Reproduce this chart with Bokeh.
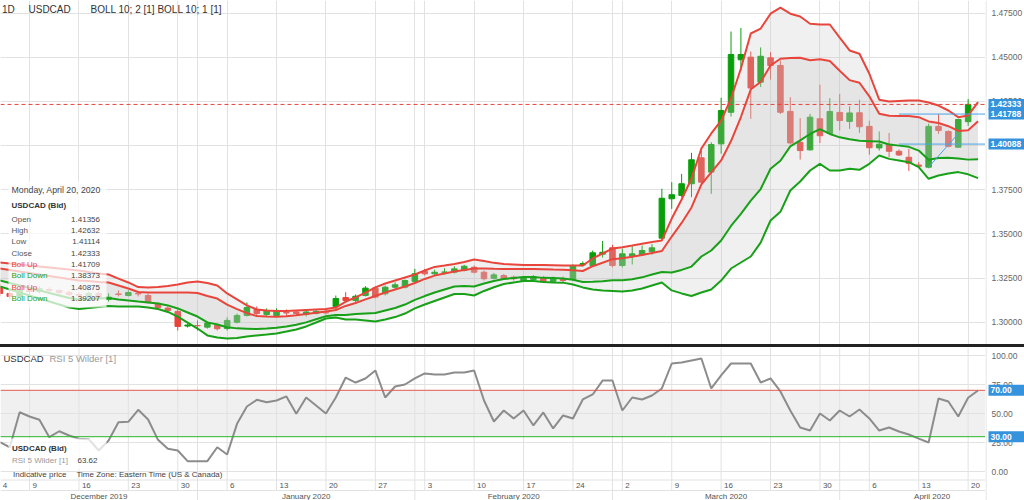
from bokeh.plotting import figure
from bokeh.models import (Range1d, FixedTicker, Label, BoxAnnotation, Span, Div,
                          ColumnDataSource, Grid)
from bokeh.layouts import column, row
from bokeh.embed import file_html
from bokeh.resources import INLINE
from bokeh.core.properties import value

FONT = "Liberation Sans"

# ------------------------------------------------------------------ data
symbol = "USDCAD"
last_date = "Monday, April 20, 2020"

opens = [1.3197, 1.3163, 1.3146, 1.3185, 1.3174, 1.3185, 1.3180, 1.3168, 1.3157, 1.3151,
         1.3163, 1.3129, 1.3160, 1.3151, 1.3163, 1.3151, 1.3106, 1.3080, 1.3061, 1.2978,
         1.2981, 1.2972, 1.2981, 1.2964, 1.3000, 1.3038, 1.3072, 1.3044, 1.3038, 1.3055,
         1.3058, 1.3044, 1.3049, 1.3061, 1.3089, 1.3140, 1.3123, 1.3151, 1.3193, 1.3161,
         1.3198, 1.3198, 1.3231, 1.3287, 1.3274, 1.3283, 1.3283, 1.3293, 1.3311, 1.3283,
         1.3249, 1.3264, 1.3255, 1.3236, 1.3242, 1.3253, 1.3231, 1.3247, 1.3242, 1.3324,
         1.3321, 1.3385, 1.3421, 1.3321, 1.3374, 1.3382, 1.3400, 1.3476, 1.3699, 1.3718,
         1.3784, 1.3931, 1.3850, 1.4010, 1.4189, 1.4486, 1.4501, 1.4359, 1.4497, 1.4454,
         1.4194, 1.4019, 1.3976, 1.4152, 1.4069, 1.4188, 1.4137, 1.4186, 1.4109, 1.3987,
         1.4008, 1.3968, 1.3934, 1.3890, 1.3878, 1.4109, 1.4080, 1.3991, 1.41356]
highs = [1.3219, 1.3180, 1.3202, 1.3197, 1.3202, 1.3197, 1.3185, 1.3180, 1.3168, 1.3174,
         1.3174, 1.3163, 1.3180, 1.3180, 1.3174, 1.3163, 1.3112, 1.3089, 1.3072, 1.2993,
         1.3010, 1.3004, 1.2993, 1.3027, 1.3049, 1.3112, 1.3089, 1.3078, 1.3078, 1.3072,
         1.3066, 1.3066, 1.3072, 1.3072, 1.3151, 1.3170, 1.3157, 1.3204, 1.3202, 1.3208,
         1.3227, 1.3242, 1.3302, 1.3302, 1.3298, 1.3306, 1.3317, 1.3325, 1.3321, 1.3293,
         1.3279, 1.3273, 1.3264, 1.3262, 1.3267, 1.3262, 1.3259, 1.3259, 1.3327, 1.3344,
         1.3406, 1.3460, 1.3438, 1.3417, 1.3434, 1.3434, 1.3442, 1.3756, 1.3793, 1.3840,
         1.3959, 1.3991, 1.4019, 1.4271, 1.4646, 1.4666, 1.4533, 1.4556, 1.4529, 1.4482,
         1.4274, 1.4156, 1.4180, 1.4345, 1.4269, 1.4292, 1.4223, 1.4260, 1.4141, 1.4080,
         1.4072, 1.3978, 1.3982, 1.3907, 1.4124, 1.4179, 1.4086, 1.4152, 1.42632]
lows = [1.3146, 1.3129, 1.3140, 1.3157, 1.3163, 1.3168, 1.3157, 1.3146, 1.3140, 1.3146,
        1.3123, 1.3117, 1.3146, 1.3146, 1.3146, 1.3106, 1.3072, 1.3058, 1.2953, 1.2970,
        1.2953, 1.2964, 1.2953, 1.2953, 1.2993, 1.3032, 1.3032, 1.3032, 1.3032, 1.3032,
        1.3038, 1.3032, 1.3044, 1.3044, 1.3066, 1.3112, 1.3112, 1.3146, 1.3134, 1.3151,
        1.3189, 1.3191, 1.3225, 1.3264, 1.3264, 1.3270, 1.3276, 1.3287, 1.3276, 1.3236,
        1.3242, 1.3239, 1.3236, 1.3228, 1.3233, 1.3222, 1.3222, 1.3225, 1.3236, 1.3315,
        1.3315, 1.3366, 1.3310, 1.3310, 1.3327, 1.3378, 1.3382, 1.3472, 1.3642, 1.3708,
        1.3708, 1.3784, 1.3727, 1.3954, 1.4165, 1.4423, 1.4152, 1.4332, 1.4374, 1.4179,
        1.4006, 1.3921, 1.3972, 1.4015, 1.4063, 1.4086, 1.4095, 1.4072, 1.3949, 1.3972,
        1.3934, 1.3941, 1.3857, 1.3876, 1.3872, 1.4067, 1.3991, 1.3987, 1.41114]
closes = [1.3163, 1.3146, 1.3185, 1.3174, 1.3191, 1.3180, 1.3168, 1.3157, 1.3151, 1.3163,
          1.3134, 1.3142, 1.3157, 1.3168, 1.3160, 1.3112, 1.3083, 1.3066, 1.2976, 1.2984,
          1.2980, 1.2995, 1.2963, 1.3010, 1.3038, 1.3083, 1.3049, 1.3066, 1.3066, 1.3052,
          1.3049, 1.3058, 1.3061, 1.3052, 1.3134, 1.3123, 1.3147, 1.3193, 1.3142, 1.3198,
          1.3212, 1.3236, 1.3274, 1.3274, 1.3283, 1.3284, 1.3302, 1.3317, 1.3283, 1.3246,
          1.3268, 1.3246, 1.3246, 1.3253, 1.3259, 1.3231, 1.3247, 1.3236, 1.3318, 1.3332,
          1.3393, 1.3396, 1.3321, 1.3387, 1.3387, 1.3406, 1.3421, 1.3702, 1.3722, 1.3784,
          1.3920, 1.3793, 1.4006, 1.4199, 1.4516, 1.4516, 1.4326, 1.4506, 1.4454, 1.4189,
          1.4015, 1.3972, 1.4161, 1.4056, 1.4193, 1.4142, 1.4185, 1.4107, 1.3988, 1.4008,
          1.3968, 1.3947, 1.3900, 1.3883, 1.4109, 1.4086, 1.3996, 1.4148, 1.42333]

# Bollinger bands as drawn (shifted one bar, so one point more than the candles)
boll2_up = [1.3338, 1.3332, 1.3327, 1.3321, 1.3315, 1.3310, 1.3304, 1.3298, 1.3293, 1.3284,
            1.3276, 1.3270, 1.3247, 1.3225, 1.3199, 1.3197, 1.3199, 1.3205, 1.3213, 1.3225,
            1.3231, 1.3222, 1.3208, 1.3163, 1.3129, 1.3095, 1.3072, 1.3066, 1.3063, 1.3063,
            1.3066, 1.3069, 1.3072, 1.3075, 1.3083, 1.3117, 1.3140, 1.3168, 1.3197, 1.3219,
            1.3236, 1.3253, 1.3270, 1.3293, 1.3313, 1.3321, 1.3330, 1.3341, 1.3355, 1.3347,
            1.3336, 1.3330, 1.3327, 1.3324, 1.3324, 1.3324, 1.3323, 1.3321, 1.3321, 1.3321,
            1.3361, 1.3389, 1.3417, 1.3425, 1.3434, 1.3444, 1.3454, 1.3463, 1.3587, 1.3695,
            1.3814, 1.3984, 1.4069, 1.4142, 1.4267, 1.4437, 1.4635, 1.4663, 1.4747, 1.4781,
            1.4747, 1.4731, 1.4690, 1.4686, 1.4686, 1.4612, 1.4539, 1.4520, 1.4407, 1.4260,
            1.4250, 1.4253, 1.4256, 1.4256, 1.4244, 1.4227, 1.4199, 1.4161, 1.41709, 1.4246]
boll1_up = [1.3304, 1.3296, 1.3287, 1.3279, 1.3270, 1.3262, 1.3253, 1.3245, 1.3236, 1.3233,
            1.3228, 1.3225, 1.3208, 1.3191, 1.3171, 1.3168, 1.3168, 1.3168, 1.3168, 1.3168,
            1.3165, 1.3148, 1.3134, 1.3099, 1.3074, 1.3051, 1.3035, 1.3032, 1.3031, 1.3034,
            1.3039, 1.3046, 1.3053, 1.3061, 1.3069, 1.3092, 1.3109, 1.3129, 1.3148, 1.3168,
            1.3185, 1.3202, 1.3222, 1.3245, 1.3264, 1.3276, 1.3287, 1.3296, 1.3304, 1.3304,
            1.3302, 1.3301, 1.3301, 1.3301, 1.3301, 1.3300, 1.3298, 1.3297, 1.3294, 1.3290,
            1.3317, 1.3337, 1.3357, 1.3362, 1.3371, 1.3381, 1.3392, 1.3403, 1.3485, 1.3562,
            1.3650, 1.3780, 1.3848, 1.3916, 1.4026, 1.4162, 1.4319, 1.4360, 1.4454, 1.4492,
            1.4496, 1.4498, 1.4483, 1.4489, 1.4479, 1.4424, 1.4371, 1.4356, 1.4279, 1.4181,
            1.4169, 1.4168, 1.4168, 1.4161, 1.4137, 1.4128, 1.4110, 1.4083, 1.40875, 1.4138]
boll1_dn = [1.3236, 1.3222, 1.3208, 1.3194, 1.3180, 1.3165, 1.3151, 1.3137, 1.3129, 1.3131,
            1.3134, 1.3137, 1.3129, 1.3123, 1.3117, 1.3112, 1.3106, 1.3095, 1.3078, 1.3055,
            1.3032, 1.2999, 1.2987, 1.2971, 1.2965, 1.2963, 1.2961, 1.2964, 1.2968, 1.2976,
            1.2986, 1.2999, 1.3017, 1.3034, 1.3041, 1.3041, 1.3046, 1.3049, 1.3052, 1.3066,
            1.3080, 1.3100, 1.3126, 1.3148, 1.3168, 1.3185, 1.3202, 1.3205, 1.3202, 1.3219,
            1.3233, 1.3245, 1.3250, 1.3256, 1.3256, 1.3251, 1.3250, 1.3248, 1.3240, 1.3228,
            1.3229, 1.3232, 1.3237, 1.3237, 1.3243, 1.3254, 1.3270, 1.3284, 1.3281, 1.3296,
            1.3315, 1.3372, 1.3406, 1.3463, 1.3545, 1.3613, 1.3688, 1.3754, 1.3869, 1.3914,
            1.3996, 1.4030, 1.4066, 1.4094, 1.4066, 1.4047, 1.4036, 1.4027, 1.4025, 1.4023,
            1.4006, 1.4000, 1.3993, 1.3972, 1.3920, 1.3930, 1.3931, 1.3927, 1.39207, 1.3923]
boll2_dn = [1.3202, 1.3185, 1.3168, 1.3151, 1.3134, 1.3117, 1.3100, 1.3083, 1.3075, 1.3080,
            1.3086, 1.3092, 1.3089, 1.3089, 1.3089, 1.3083, 1.3075, 1.3058, 1.3032, 1.2998,
            1.2964, 1.2925, 1.2913, 1.2908, 1.2911, 1.2919, 1.2925, 1.2930, 1.2936, 1.2947,
            1.2959, 1.2976, 1.2998, 1.3021, 1.3027, 1.3015, 1.3015, 1.3010, 1.3004, 1.3015,
            1.3029, 1.3049, 1.3078, 1.3100, 1.3120, 1.3140, 1.3160, 1.3160, 1.3151, 1.3177,
            1.3198, 1.3216, 1.3225, 1.3233, 1.3233, 1.3228, 1.3225, 1.3224, 1.3213, 1.3197,
            1.3185, 1.3180, 1.3177, 1.3174, 1.3180, 1.3191, 1.3208, 1.3225, 1.3180, 1.3163,
            1.3148, 1.3168, 1.3185, 1.3236, 1.3304, 1.3338, 1.3372, 1.3451, 1.3576, 1.3625,
            1.3746, 1.3797, 1.3859, 1.3897, 1.3859, 1.3859, 1.3869, 1.3863, 1.3897, 1.3944,
            1.3925, 1.3916, 1.3906, 1.3878, 1.3812, 1.3831, 1.3842, 1.3850, 1.38373, 1.3816]

# RSI 5 Wilder (shifted one bar)
rsi = [25.3, 20.9, 51.1, 47.4, 44.6, 29.6, 34.7, 31.0, 28.2, 27.8,
       18.1, 26.7, 42.5, 42.8, 53.2, 44.8, 27.3, 19.6, 18.1, 8.9,
       8.9, 8.9, 20.9, 14.7, 41.1, 56.0, 61.8, 59.7, 61.2, 64.7,
       49.7, 63.8, 56.9, 50.0, 63.8, 81.0, 76.7, 80.2, 87.1, 63.8,
       73.3, 75.0, 80.2, 84.5, 83.6, 83.6, 85.3, 85.3, 87.1, 61.2,
       43.1, 52.6, 45.7, 52.6, 39.7, 50.9, 37.1, 48.3, 45.7, 62.1,
       66.4, 78.4, 78.4, 52.6, 63.8, 62.1, 65.5, 71.6, 93.1, 94.0,
       95.7, 97.4, 71.6, 82.8, 93.1, 93.1, 93.1, 76.7, 80.2, 69.0,
       52.6, 37.9, 35.3, 50.0, 44.0, 52.6, 47.4, 53.4, 45.7, 35.3,
       37.9, 34.5, 31.9, 28.4, 25.0, 62.9, 60.3, 47.4, 63.62, 69.8]

price_ticks = [1.300, 1.325, 1.350, 1.375, 1.400, 1.425, 1.450, 1.475]
rsi_ticks = [0, 25, 50, 75, 100]
rsi_levels = [70, 30]

# trading-day index of each labelled day (Dec 4, then the Mondays)
week_starts = [0, 3, 8, 13, 18, 23, 28, 33, 38, 43, 48, 53, 58, 63, 68, 73, 78, 83, 88, 93, 98]
week_labels = ["4", "9", "16", "23", "30", "6", "13", "20", "27", "3", "10", "17", "24",
               "2", "9", "16", "23", "30", "6", "13", "20"]
month_starts = [20, 42, 62, 85]
month_names = ["December 2019", "January 2020", "February 2020", "March 2020", "April 2020"]

# user-drawn tools on the chart
drawn_levels = [1.41788, 1.40088]
drawn_from = 91
trend_x = [94, 97]
trend_y = [1.3878, 1.4068]

# ------------------------------------------------------------------ style / geometry
GREEN = "#0a9f0a"
RED = "#e8433a"
BAND_RED = "#e8463c"
BAND_GREEN = "#18a018"
GRID = "#e2e2e2"
BLUE = "#3592dc"
FW = 985          # frame width
AXW = 39          # right label column
PH = 344          # price frame height
RH = 153          # RSI frame height (incl. date rows)


def xi(px):      # reference pixel column -> bar index
    return (px + 0.6) / 9.88


def py(px):      # reference pixel row -> price
    return 1.48219 - 0.00056635 * px


def ry(px):      # reference pixel row -> RSI value
    return (471.0 - px) / 1.16


def add_text(fig, x, y, text, size="8px", color="#444444", style="normal", align="left"):
    fig.add_layout(Label(x=x, y=y, text=text, text_font=FONT, text_font_size=size,
                         text_color=color, text_font_style=style, text_align=align,
                         text_baseline="middle"))


def base_fig(fw, fh, xr, yr):
    f = figure(frame_width=fw, frame_height=fh, x_range=xr, y_range=yr,
               x_axis_location=None, y_axis_location=None,
               output_backend="svg", toolbar_location=None,
               min_border_left=0, min_border_right=0, min_border_top=0, min_border_bottom=0)
    f.outline_line_color = None
    for g in f.grid:
        g.visible = False
    return f


def label_column(yr, fh, ticks, fmt, tags, tag_fmt):
    a = base_fig(AXW, fh, Range1d(0, AXW), yr)
    a.add_layout(Span(location=0.5, dimension="height", line_color="#dddddd", line_width=1))
    a.text(x=[6] * len(ticks), y=ticks, text=[fmt % t for t in ticks],
           text_font=value(FONT), text_font_size="8.5px", text_color="#666666",
           text_baseline="middle")
    a.rect(x=[3 + (AXW - 3) / 2.0] * len(tags), y=tags, width=AXW - 3, height=11,
           height_units="screen", fill_color=BLUE, line_color=None)
    a.text(x=[5] * len(tags), y=tags, text=[tag_fmt % t for t in tags],
           text_font=value(FONT), text_font_size="8.5px", text_font_style="bold",
           text_color="white", text_baseline="middle")
    return a


xr = Range1d(xi(0), xi(985))
vgrid = sorted(week_starts[1:] + month_starts)

# ------------------------------------------------------------------ price panel
p = base_fig(FW, PH, xr, Range1d(py(344), py(0)))
p.add_layout(Grid(dimension=0, ticker=FixedTicker(ticks=vgrid), grid_line_color=GRID))
p.add_layout(Grid(dimension=1, ticker=FixedTicker(ticks=price_ticks), grid_line_color=GRID))

n = len(closes)
src = ColumnDataSource(dict(
    x=list(range(n)), h=highs, l=lows,
    top=[max(o, c) for o, c in zip(opens, closes)],
    bot=[min(o, c) for o, c in zip(opens, closes)],
    col=[GREEN if c >= o else RED for o, c in zip(opens, closes)]))
p.segment(x0="x", y0="h", x1="x", y1="l", line_color="col", line_width=1, source=src)
p.vbar(x="x", width=0.56, top="top", bottom="bot", fill_color="col", line_color="col", source=src)

bx = list(range(len(boll2_up)))
p.varea(x=bx, y1=boll2_dn, y2=boll2_up, fill_color="#c4c4c4", fill_alpha=0.26)
p.varea(x=bx, y1=boll1_dn, y2=boll1_up, fill_color="#c4c4c4", fill_alpha=0.26)
p.line(bx, boll2_up, line_color=BAND_RED, line_width=2)
p.line(bx, boll1_up, line_color=BAND_RED, line_width=2)
p.line(bx, boll1_dn, line_color=BAND_GREEN, line_width=2)
p.line(bx, boll2_dn, line_color=BAND_GREEN, line_width=2)

for lv in drawn_levels:
    p.line([drawn_from, xr.end], [lv, lv], line_color="#4aa3e8", line_width=1)
p.line(trend_x, trend_y, line_color="#4aa3e8", line_width=1)

p.add_layout(Span(location=closes[-1], dimension="width", line_color=RED,
                  line_dash="4 3", line_width=1))

add_text(p, xi(1.5), py(9), "1D", "10px", "#333333")
add_text(p, xi(28), py(9), symbol, "10px", "#333333")
add_text(p, xi(90), py(9), "BOLL 10; 2 [1]  BOLL 10; 1 [1]", "10px", "#333333")

p.add_layout(BoxAnnotation(left=xi(8), right=xi(106), top=py(181), bottom=py(307),
                           fill_color="white", fill_alpha=0.72, line_color=None))
add_text(p, xi(11), py(189.5), last_date, "8.75px", "#444444")
add_text(p, xi(11), py(205), symbol + " (Bid)", "8px", "#333333", "bold")
rows = [("Open", opens[-1], "#555555"), ("High", highs[-1], "#555555"),
        ("Low", lows[-1], "#555555"), ("Close", closes[-1], "#555555"),
        ("Boll Up", boll2_up[n - 1], BAND_RED), ("Boll Down", boll2_dn[n - 1], BAND_GREEN),
        ("Boll Up", boll1_up[n - 1], BAND_RED), ("Boll Down", boll1_dn[n - 1], BAND_GREEN)]
for k, (name, val, colr) in enumerate(rows):
    yy = py(218.5 + 11.35 * k)
    add_text(p, xi(11), yy, name, "8px", colr)
    add_text(p, xi(99.5), yy, "%.5f" % val, "8px", "#444444", align="right")

p_ax = label_column(p.y_range, PH, price_ticks, "%.5f",
                    [closes[-1]] + drawn_levels, "%.5f")

# ------------------------------------------------------------------ separator
sep = Div(text="", width=FW + AXW, height=3, margin=0, styles={"background-color": "#222222"})

# ------------------------------------------------------------------ RSI panel (with date rows)
r = base_fig(FW, RH, xr, Range1d(ry(500), ry(347)))
r.add_layout(BoxAnnotation(bottom=min(rsi_levels), top=max(rsi_levels), fill_color="#f0f0f0",
                           fill_alpha=1.0, line_color=None, level="underlay"))
r.add_layout(Grid(dimension=1, ticker=FixedTicker(ticks=rsi_ticks), grid_line_color=GRID))
# vertical grid: weeks run through the day row, month changes through both rows
r.segment(x0=week_starts[1:], y0=[ry(347)] * (len(week_starts) - 1),
          x1=week_starts[1:], y1=[ry(490)] * (len(week_starts) - 1), line_color=GRID)
r.segment(x0=month_starts, y0=[ry(347)] * len(month_starts),
          x1=month_starts, y1=[ry(500)] * len(month_starts), line_color=GRID)
r.add_layout(Span(location=ry(479.5), dimension="width", line_color=GRID, line_width=1))
r.add_layout(Span(location=ry(490), dimension="width", line_color=GRID, line_width=1))

r.line(list(range(len(rsi))), rsi, line_color="#8c8c8c", line_width=2)
r.add_layout(Span(location=rsi_levels[0], dimension="width", line_color="#e05a50", line_width=1))
r.add_layout(Span(location=rsi_levels[1], dimension="width", line_color="#2bb52b", line_width=1))

# date rows
r.text(x=[t + 0.3 for t in week_starts], y=[ry(485)] * len(week_starts), text=week_labels,
       text_font=value(FONT), text_font_size="8px", text_color="#555555",
       text_baseline="middle", text_align="left")
bounds = [xr.start] + month_starts + [xi(1024)]
month_pos = [(a + b) / 2.0 for a, b in zip(bounds[:-1], bounds[1:])]
r.text(x=month_pos, y=[ry(495.5)] * len(month_pos), text=month_names,
       text_font=value(FONT), text_font_size="8px", text_color="#555555",
       text_baseline="middle", text_align="center")

add_text(r, xi(3), ry(357.5), symbol, "9.5px", "#333333")
add_text(r, xi(49), ry(357.5), "RSI 5 Wilder [1]", "9.5px", "#999999")
r.add_layout(BoxAnnotation(left=xi(8), right=xi(106), top=ry(438), bottom=ry(469),
                           fill_color="white", fill_alpha=0.75, line_color=None))
add_text(r, xi(11.5), ry(447.5), symbol + " (Bid)", "8px", "#333333", "bold")
add_text(r, xi(11.5), ry(460), "RSI 5 Wilder [1]", "8px", "#999999")
add_text(r, xi(77), ry(460), "%.2f" % rsi[n - 1], "8px", "#444444")
add_text(r, xi(12.5), ry(474), "Indicative price", "8px", "#444444")
add_text(r, xi(76), ry(474), "Time Zone: Eastern Time (US & Canada)", "8px", "#444444")

r_ax = label_column(r.y_range, RH, rsi_ticks, "%.2f", rsi_levels, "%.2f")

layout = column(row(p, p_ax, spacing=0), sep, row(r, r_ax, spacing=0), spacing=0)
open("out.html", "w").write(file_html(layout, INLINE))
